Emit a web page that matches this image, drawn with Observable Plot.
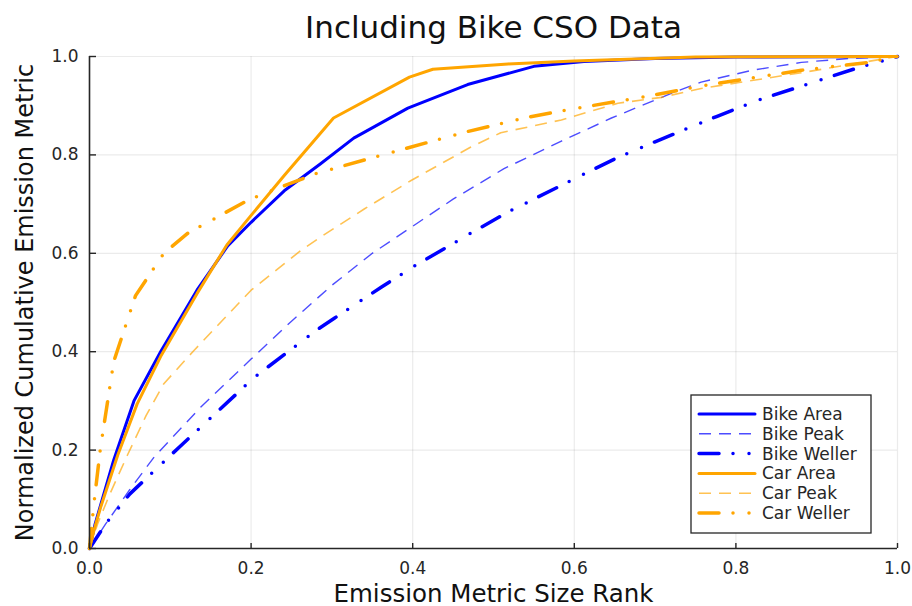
<!DOCTYPE html>
<html>
<head>
<meta charset="utf-8">
<script src="https://cdn.jsdelivr.net/npm/d3@7"></script>
<script src="https://cdn.jsdelivr.net/npm/@observablehq/plot@0.6"></script>
<style>
  body { margin: 0; background: #fff; }
  #chart { width: 912px; height: 606px; }
</style>
</head>
<body>
<div id="chart"></div>
<script>
// Cumulative emission share vs. size rank, [rank, cumulative] pairs per series
const bikeArea = [[0,0],[0.007,0.05],[0.03,0.18],[0.055,0.30],[0.088,0.40],[0.133,0.525],[0.171,0.615],[0.2,0.663],[0.241,0.727],[0.286,0.782],[0.327,0.834],[0.394,0.895],[0.468,0.943],[0.55,0.98],[0.612,0.99],[0.7,0.996],[0.8,0.999],[1,1]];
const bikePeak = [[0,0],[0.02,0.05],[0.05,0.12],[0.08,0.186],[0.1375,0.287],[0.2,0.385],[0.25,0.462],[0.3,0.535],[0.35,0.6],[0.4,0.655],[0.45,0.71],[0.513,0.772],[0.584,0.828],[0.646,0.875],[0.72,0.925],[0.757,0.948],[0.82,0.972],[0.881,0.988],[0.94,0.996],[1,1]];
const bikeWeller = [[0,0],[0.02,0.05],[0.05,0.111],[0.113,0.209],[0.204,0.348],[0.282,0.445],[0.303,0.468],[0.361,0.531],[0.4,0.572],[0.472,0.641],[0.518,0.684],[0.596,0.748],[0.654,0.795],[0.699,0.826],[0.776,0.878],[0.827,0.911],[0.947,0.975],[1,1]];
const carArea = [[0,0],[0.006,0.04],[0.014,0.085],[0.035,0.19],[0.059,0.294],[0.088,0.39],[0.133,0.518],[0.17,0.617],[0.2,0.677],[0.241,0.758],[0.302,0.875],[0.396,0.958],[0.425,0.974],[0.518,0.985],[0.6,0.991],[0.75,0.999],[1,1]];
const carPeak = [[0,0],[0.01,0.05],[0.025,0.11],[0.047,0.19],[0.07,0.27],[0.092,0.335],[0.129,0.402],[0.2,0.525],[0.261,0.605],[0.286,0.633],[0.34,0.69],[0.398,0.748],[0.472,0.816],[0.509,0.845],[0.584,0.871],[0.654,0.905],[0.708,0.917],[0.757,0.935],[0.881,0.967],[1,1]];
const carWeller = [[0,0],[0.0054,0.09],[0.0136,0.205],[0.03,0.38],[0.057,0.514],[0.092,0.6],[0.121,0.64],[0.195,0.707],[0.22,0.724],[0.282,0.763],[0.352,0.795],[0.464,0.846],[0.544,0.877],[0.6,0.894],[0.683,0.917],[0.757,0.94],[0.881,0.972],[0.964,0.988],[1,1]];

const seriesNames = ["Bike Area", "Bike Peak", "Bike Weller", "Car Area", "Car Peak", "Car Weller"];
const seriesData = [bikeArea, bikePeak, bikeWeller, carArea, carPeak, carWeller];

const xTicks = [0, 0.2, 0.4, 0.6, 0.8, 1.0];
const yTicks = [0, 0.2, 0.4, 0.6, 0.8, 1.0];

const titleText = "Including Bike CSO Data";
const xLabel = "Emission Metric Size Rank";
const yLabel = "Normalized Cumulative Emission Metric";

// Line styles per series
const BLUE = "#0000ff", ORANGE = "#ffa500";
const dashDotDot = "20,14,0,16,0,14";
const styles = {
  "Bike Area":   {stroke: BLUE,   width: 3,   opacity: 1,    dash: null,       cap: "round"},
  "Bike Peak":   {stroke: BLUE,   width: 1.4, opacity: 0.7,  dash: "12,8",     cap: "butt"},
  "Bike Weller": {stroke: BLUE,   width: 3.5, opacity: 1,    dash: dashDotDot, cap: "round"},
  "Car Area":    {stroke: ORANGE, width: 3,   opacity: 1,    dash: null,       cap: "round"},
  "Car Peak":    {stroke: ORANGE, width: 1.6, opacity: 0.68, dash: "12,8",     cap: "butt"},
  "Car Weller":  {stroke: ORANGE, width: 3.5, opacity: 1,    dash: dashDotDot, cap: "round"}
};

const W = 912, H = 606;
const ML = 89, MR = 15, MT = 56, MB = 58;
const plotW = W - ML - MR, plotH = H - MT - MB;
const FONT = "DejaVu Sans, sans-serif";
const INK = "#262626";

const lineMarks = seriesNames.map((name, i) => {
  const s = styles[name];
  const rows = seriesData[i].map(([x, y]) => ({x, y}));
  return Plot.line(rows, {
    x: "x", y: "y",
    stroke: s.stroke, strokeWidth: s.width, strokeOpacity: s.opacity,
    strokeDasharray: s.dash, strokeLinecap: s.cap, strokeLinejoin: "round"
  });
});

const chart = Plot.plot({
  width: W, height: H,
  marginLeft: ML, marginRight: MR, marginTop: MT, marginBottom: MB,
  style: {fontFamily: FONT, fontSize: "17px", color: INK, background: "#fff"},
  x: {domain: [0, 1]},
  y: {domain: [0, 1]},
  marks: [
    Plot.gridX(xTicks, {stroke: "#000", strokeOpacity: 0.08, strokeWidth: 1.2}),
    Plot.gridY(yTicks, {stroke: "#000", strokeOpacity: 0.08, strokeWidth: 1.2}),
    ...lineMarks,
    Plot.ruleX([0], {stroke: INK, strokeWidth: 1.6}),
    Plot.ruleY([0], {stroke: INK, strokeWidth: 1.6}),
    Plot.tickX(xTicks, {x: d => d, insetTop: plotH - 5, stroke: INK, strokeWidth: 1.4}),
    Plot.tickY(yTicks, {y: d => d, insetRight: plotW - 7, stroke: INK, strokeWidth: 1.4}),
    Plot.axisX(xTicks, {tickSize: 0, tickPadding: 13, tickFormat: d3.format(".1f"), fontSize: 17, fill: INK, label: null}),
    Plot.axisY(yTicks, {tickSize: 0, tickPadding: 11, tickFormat: d3.format(".1f"), fontSize: 17, fill: INK, label: null}),
    Plot.text([titleText], {frameAnchor: "top", text: d => d, dy: -19, lineAnchor: "bottom", fontSize: 31, fill: "#111"}),
    Plot.text([xLabel], {frameAnchor: "bottom", text: d => d, dy: 53, lineAnchor: "bottom", fontSize: 24.5, fill: "#111"}),
    Plot.text([yLabel], {frameAnchor: "left", text: d => d, dx: -57, rotate: -90, lineAnchor: "bottom", textAnchor: "middle", fontSize: 24, fill: "#111"})
  ]
});

// Legend box in the lower-right corner of the frame
const lg = d3.select(chart).append("g")
  .attr("font-family", FONT).attr("font-size", 17).attr("text-anchor", "start");
lg.append("rect")
  .attr("x", 691).attr("y", 395).attr("width", 180).attr("height", 138)
  .attr("fill", "#fff").attr("stroke", INK).attr("stroke-width", 1.3);
seriesNames.forEach((name, i) => {
  const s = styles[name];
  const cy = 414 + i * 19.8;
  lg.append("line")
    .attr("x1", 699).attr("x2", 755).attr("y1", cy).attr("y2", cy)
    .attr("stroke", s.stroke).attr("stroke-width", s.width)
    .attr("stroke-opacity", s.opacity)
    .attr("stroke-dasharray", s.dash)
    .attr("stroke-linecap", s.cap);
  lg.append("text")
    .attr("x", 762).attr("y", cy).attr("dy", "0.35em")
    .attr("text-anchor", "start")
    .attr("fill", INK).text(name);
});

document.getElementById("chart").append(chart);
</script>
</body>
</html>
